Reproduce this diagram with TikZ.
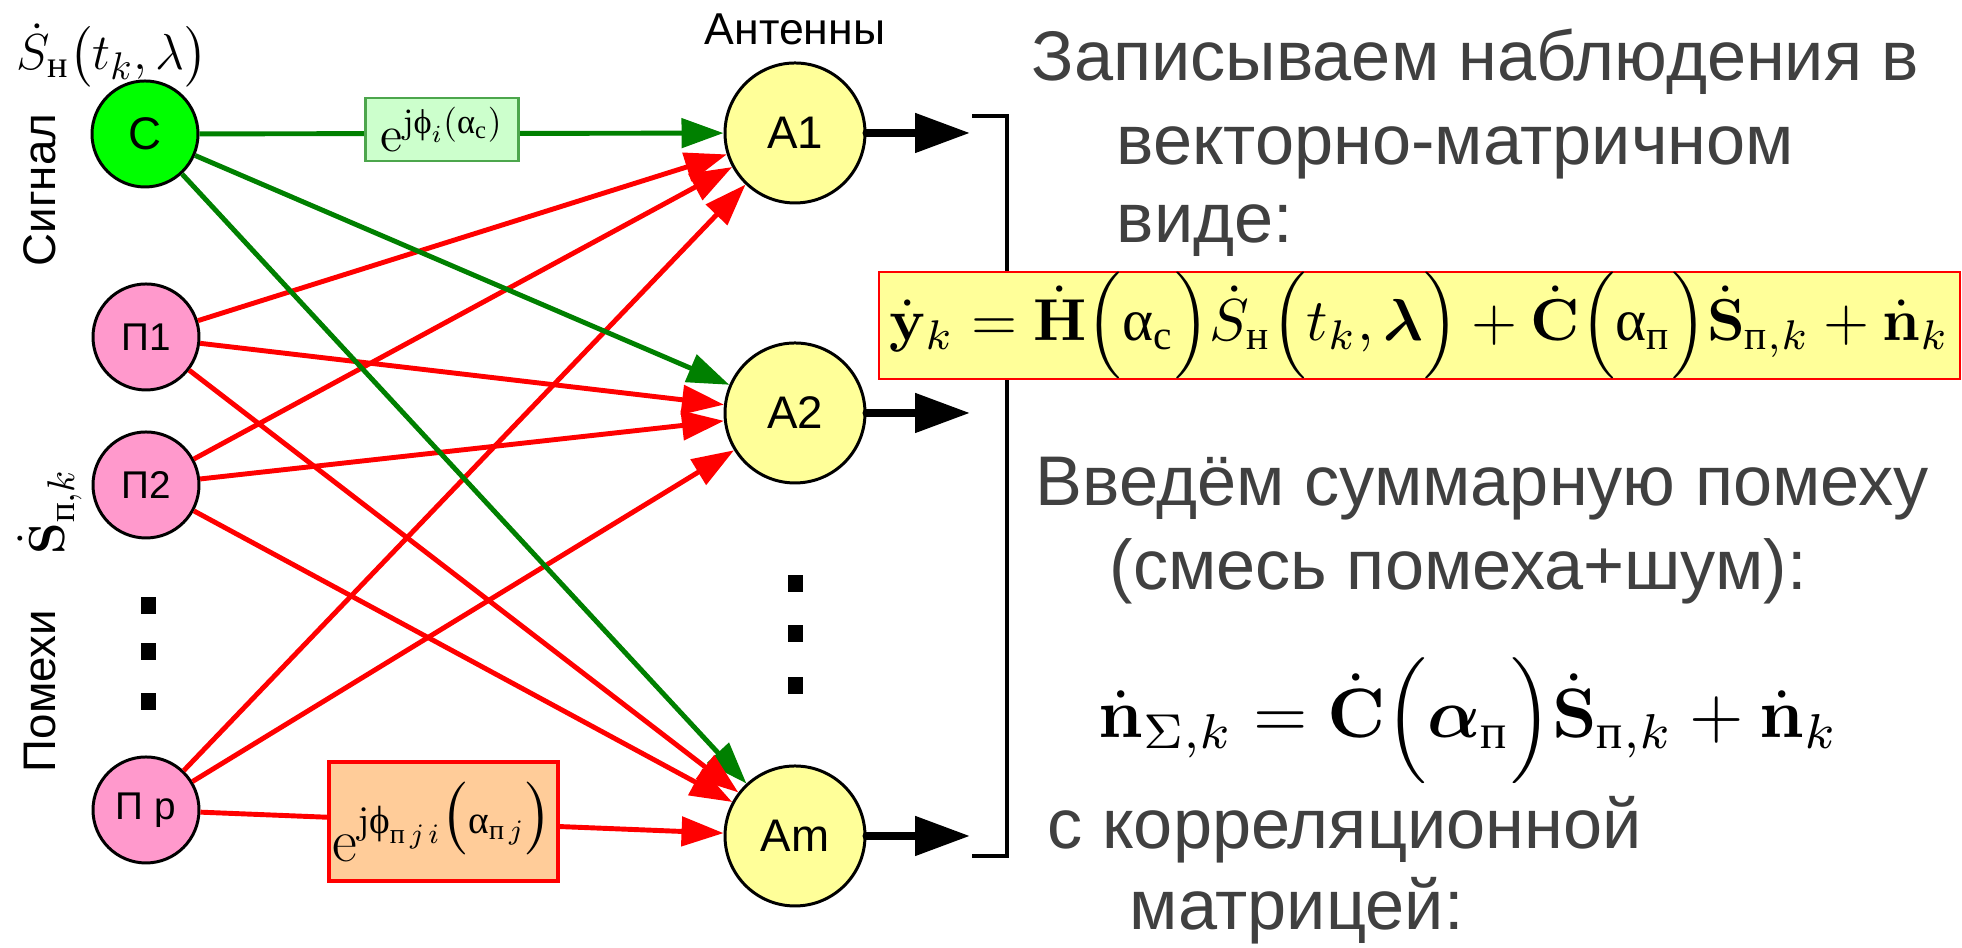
\documentclass[tikz,border=0pt]{standalone}
\usepackage{amsmath}
\usepackage[no-math]{fontspec}
\setmainfont{Liberation Sans}
\newfontfamily\serifcyr{Liberation Serif}
\usetikzlibrary{arrows.meta}
\definecolor{siggreen}{RGB}{0,255,0}
\definecolor{linegreen}{RGB}{0,128,0}
\definecolor{jampink}{RGB}{255,153,204}
\definecolor{antyellow}{RGB}{255,255,153}
\definecolor{boxgreen}{RGB}{204,255,204}
\definecolor{boxorange}{RGB}{255,204,153}
\definecolor{txtgray}{RGB}{64,64,64}
\newcommand{\cyr}[1]{\text{\serifcyr #1}}
\newcommand{\grk}[1]{\text{\serifcyr #1}}

\begin{document}
\begin{tikzpicture}[
      sigcirc/.style={circle, draw, line width=0.85pt, fill=siggreen, minimum size=1.06cm, inner sep=0pt, font=\fontsize{13}{13}\selectfont},
      jamcirc/.style={circle, draw, line width=0.85pt, fill=jampink, minimum size=1.06cm, inner sep=0pt, font=\fontsize{11}{11}\selectfont},
      antcirc/.style={circle, draw, line width=0.85pt, fill=antyellow, minimum size=1.40cm, inner sep=0pt, font=\fontsize{13}{13}\selectfont},
      grline/.style={draw=linegreen, line width=1.4pt, -{Triangle[length=4.2mm, width=2.9mm]}},
      rdline/.style={draw=red, line width=1.4pt, -{Triangle[length=4.2mm, width=2.9mm]}},
      outarr/.style={line width=2.3pt, line cap=round, -{Triangle[length=5.5mm, width=3.8mm]}},
      dotsq/.style={fill=black, minimum width=0.15cm, minimum height=0.17cm, inner sep=0pt},
      rtext/.style={anchor=base west, text=txtgray, inner sep=0pt, font=\fontsize{20}{24}\selectfont}
    ]
      \useasboundingbox (0,0) rectangle (19.62,9.48);

      % Sources
      \node[sigcirc] (sig) at (1.45,8.14) {С};
      \node[jamcirc] (jam1) at (1.46,6.11) {П1};
      \node[jamcirc] (jam2) at (1.46,4.63) {П2};
      \node[jamcirc] (jamr) at (1.46,1.38) {П р};
      \foreach \y [count=\i] in {3.42,2.96,2.46}
        \node[dotsq] (ldot\i) at (1.48,\y) {};

      \node[anchor=base west, inner sep=0pt] (sigfun) at (0.16,8.78) {\fontsize{15.5}{15.5}\selectfont$\dot{S}_{\cyr{н}}\bigl(t_k,\lambda\bigr)$};
      \node[rotate=90, font=\fontsize{13}{13}\selectfont] (siglab) at (0.40,7.58) {Сигнал};
      \node[rotate=90, font=\fontsize{13}{13}\selectfont] (jamlab) at (0.40,2.57) {Помехи};
      \node[rotate=90] (jamvec) at (0.50,4.36) {\fontsize{15}{15}\selectfont$\dot{\mathbf{S}}_{\cyr{п},k}$};

      % Antennas
      \node[anchor=base, font=\fontsize{12.7}{13}\selectfont] (antlab) at (7.95,9.03) {Антенны};
      \node[antcirc] (ant1) at (7.95,8.15) {A1};
      \node[antcirc] (ant2) at (7.95,5.35) {A2};
      \node[antcirc] (antm) at (7.95,1.12) {Am};
      \foreach \y [count=\i] in {3.64,3.14,2.62}
        \node[dotsq] (rdot\i) at (7.95,\y) {};

      % Links
      \foreach \a in {ant1,ant2,antm} {
        \draw[grline] (sig) -- (\a);
        \draw[rdline] (jam1) -- (\a);
        \draw[rdline] (jam2) -- (\a);
        \draw[rdline] (jamr) -- (\a);
      }

      % Phase factors
      \node[draw=linegreen!70, fill=boxgreen, line width=0.6pt, minimum width=1.53cm, minimum height=0.63cm, inner sep=0pt] (phsig) at (4.42,8.185)
        {\fontsize{14}{14}\selectfont$\mathrm{e}^{\mathrm{j}\grk{ϕ}_i(\grk{α}_{\cyr{с}})}$};
      \node[draw=red, fill=boxorange, line width=1pt, minimum width=2.29cm, minimum height=1.19cm, inner sep=0pt] (phjam) at (4.435,1.265)
        {\fontsize{16}{16}\selectfont$\mathrm{e}^{\mathrm{j}\grk{ϕ}_{\cyr{п}\,j\,i}\bigl(\grk{α}_{\cyr{п}\,j}\bigr)}$};

      % Outputs
      \coordinate (out1) at (9.70,8.15);
      \coordinate (out2) at (9.70,5.35);
      \coordinate (outm) at (9.70,1.12);
      \draw[outarr] (ant1.east) -- (out1);
      \draw[outarr] (ant2.east) -- (out2);
      \draw[outarr] (antm.east) -- (outm);
      \coordinate (brtop) at (9.72,8.32);
      \coordinate (brbot) at (9.72,0.92);
      \draw[line width=0.9pt] (brtop) -- ++(0.35,0) |- (brbot);

      % Text
      \node[rtext] (t1) at (10.31,8.67) {Записываем наблюдения в};
      \node[rtext] (t2) at (11.16,7.83) {векторно-матричном};
      \node[rtext] (t3) at (11.16,7.05) {виде:};
      \node[draw=red, fill=antyellow, line width=0.6pt, minimum width=10.81cm, minimum height=1.05cm, inner sep=0pt] (eqy) at (14.195,6.225)
        {\resizebox{10.6cm}{!}{$\dot{\mathbf{y}}_k = \dot{\mathbf{H}}\Bigl(\grk{α}_{\cyr{с}}\Bigr)\dot{S}_{\cyr{н}}\Bigl(t_k,\boldsymbol{\lambda}\Bigr) + \dot{\mathbf{C}}\Bigl(\grk{α}_{\cyr{п}}\Bigr)\dot{\mathbf{S}}_{\cyr{п},k} + \dot{\mathbf{n}}_k$}};
      \node[rtext] (t4) at (10.35,4.42) {Введём суммарную помеху};
      \node[rtext] (t5) at (11.09,3.58) {(смесь помеха+шум):};
      \node[anchor=base west, inner sep=0pt] (eqn) at (10.98,2.10)
        {\resizebox{7.4cm}{!}{$\dot{\mathbf{n}}_{\Sigma,k} = \dot{\mathbf{C}}\Bigl(\boldsymbol{\alpha}_{\cyr{п}}\Bigr)\dot{\mathbf{S}}_{\cyr{п},k} + \dot{\mathbf{n}}_k$}};
      \node[rtext] (t6) at (10.47,0.99) {с корреляционной};
      \node[rtext] (t7) at (11.29,0.18) {матрицей:};
    \end{tikzpicture}
\end{document}
